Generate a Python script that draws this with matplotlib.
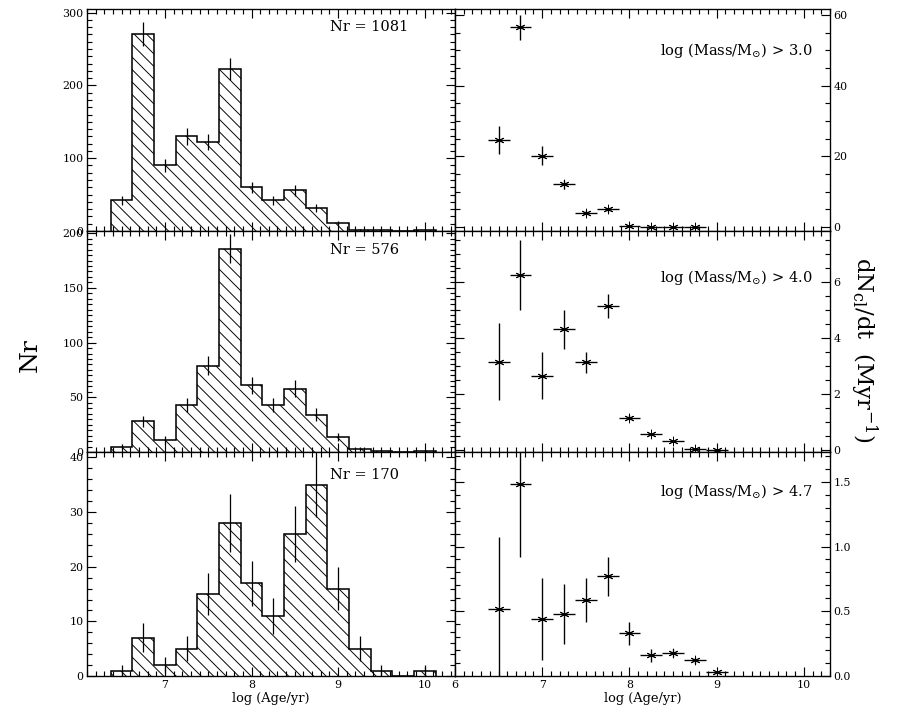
import numpy as np
import matplotlib
matplotlib.use("Agg")
import matplotlib.pyplot as plt
from matplotlib.ticker import MultipleLocator, AutoMinorLocator

plt.rcParams['font.family'] = ['DejaVu Serif']
plt.rcParams['mathtext.fontset'] = 'dejavuserif'
plt.rcParams['hatch.linewidth'] = 0.9

# bin centres in log(Age/yr)
age_bins = [6.5, 6.75, 7.0, 7.25, 7.5, 7.75, 8.0, 8.25, 8.5, 8.75, 9.0, 9.25, 9.5, 9.75, 10.0]
bin_width = 0.25

# histograms (number of clusters per bin)
nr_m30 = [42, 270, 90, 130, 122, 223, 60, 42, 56, 31, 11, 2, 1, 0, 1]
nr_m40 = [5, 28, 11, 43, 79, 186, 61, 43, 58, 34, 14, 3, 1, 0, 1]
nr_m47 = [1, 7, 2, 5, 15, 28, 17, 11, 26, 35, 16, 5, 1, 0, 1]
nr_totals = [1081, 576, 170]

# formation rates dN/dt (Myr^-1)
rate_age = [6.5, 6.75, 7.0, 7.25, 7.5, 7.75, 8.0, 8.25, 8.5, 8.75, 9.0]
rate_m30 = [24.6, 56.5, 20.2, 12.1, 4.1, 5.1, 0.3, 0.15, 0.06, 0.02]
err_m30 = [4.0, 3.5, 2.6, 1.3, 0.6, 0.7, 0.1, 0.05, 0.03, 0.01]
rate_m40 = [3.15, 6.25, 2.65, 4.31, 3.12, 5.15, 1.15, 0.56, 0.30, 0.03, 0.01]
err_m40 = [1.37, 1.25, 0.83, 0.7, 0.37, 0.43, 0.1, 0.05, 0.03, 0.02, 0.0]
rate_m47 = [0.52, 1.48, 0.44, 0.48, 0.59, 0.77, 0.33, 0.16, 0.18, 0.12, 0.03]
err_m47 = [0.55, 0.56, 0.32, 0.23, 0.17, 0.15, 0.09, 0.05, 0.03, 0.03, 0.0]
mass_cuts = ['3.0', '4.0', '4.7']

hists = [nr_m30, nr_m40, nr_m47]
rates = [(rate_m30, err_m30), (rate_m40, err_m40), (rate_m47, err_m47)]

hist_ylims = [(0, 305), (0, 202), (0, 41)]
hist_major = [100, 50, 10]
hist_minor = [10, 10, 5]
rate_ylims = [(-1.1, 61.7), (-0.08, 7.82), (0, 1.73)]
rate_major = [20, 2, 0.5]
rate_minor = [4, 4, 5]

fig = plt.figure(figsize=(12, 9.64), dpi=75)

L, M, R = 87 / 900, 455 / 900, 830 / 900
rows = [(0.6805, 0.9876), (0.3748, 0.6805), (0.065, 0.3748)]


def style_axis(ax):
    ax.tick_params(which='both', direction='in', top=True, bottom=True,
                   left=True, right=True, width=1.1, labelsize=10.5)
    ax.tick_params(which='major', length=9)
    ax.tick_params(which='minor', length=4.5)
    ax.xaxis.set_major_locator(MultipleLocator(1))
    ax.xaxis.set_minor_locator(AutoMinorLocator(10))
    for s in ax.spines.values():
        s.set_linewidth(1.3)


edges = np.concatenate([np.array(age_bins) - bin_width / 2, [age_bins[-1] + bin_width / 2]])

for i in range(3):
    y0, y1 = rows[i]
    # left: histogram
    ax = fig.add_axes([L, y0, M - L, y1 - y0])
    vals = np.array(hists[i], dtype=float)
    ax.stairs(vals, edges, fill=True, facecolor='none', edgecolor='black',
              hatch='\\\\', linewidth=0, baseline=0)
    ax.stairs(vals, edges, fill=False, color='black', linewidth=1.5, baseline=0)
    nz = vals > 0
    ax.errorbar(np.array(age_bins)[nz], vals[nz], yerr=np.sqrt(vals[nz]),
                fmt='none', ecolor='black', elinewidth=1.2, capsize=0)
    ax.set_xlim(6.1, 10.35)
    ax.set_ylim(*hist_ylims[i])
    style_axis(ax)
    ax.yaxis.set_major_locator(MultipleLocator(hist_major[i]))
    ax.yaxis.set_minor_locator(AutoMinorLocator(hist_minor[i]))
    ax.text(0.66, [0.92, 0.914, 0.896][i], f'Nr = {nr_totals[i]}',
            transform=ax.transAxes, ha='left', va='center', fontsize=14)
    if i < 2:
        ax.tick_params(labelbottom=False)
    else:
        ax.set_xlabel('log (Age/yr)', fontsize=12.5, labelpad=2)

    # right: formation rate
    ax2 = fig.add_axes([M, y0, R - M, y1 - y0])
    r, e = rates[i]
    ax2.errorbar(rate_age[:len(r)], r, yerr=e, xerr=bin_width / 2,
                 fmt='none', ecolor='black', elinewidth=1.3, capsize=0)
    ax2.plot(rate_age[:len(r)], r, linestyle='none', marker=(6, 2, 0),
             markersize=9, markeredgewidth=0.9, color='black')
    ax2.set_xlim(6.0, 10.3)
    ax2.set_ylim(*rate_ylims[i])
    style_axis(ax2)
    ax2.tick_params(labelleft=False, labelright=True)
    ax2.yaxis.set_major_locator(MultipleLocator(rate_major[i]))
    ax2.yaxis.set_minor_locator(AutoMinorLocator(rate_minor[i]))
    if i == 2:
        ax2.yaxis.set_major_formatter(plt.FormatStrFormatter('%.1f'))
    ax2.text(0.953, [0.815, 0.79, 0.824][i],
             r'log (Mass/$\mathrm{M}_{\odot}$) > ' + mass_cuts[i],
             transform=ax2.transAxes, ha='right', va='center', fontsize=14)
    if i < 2:
        ax2.tick_params(labelbottom=False)
    else:
        ax2.set_xlabel('log (Age/yr)', fontsize=12.5, labelpad=2)

fig.text(30 / 900, 1 - 355 / 723, 'Nr', rotation=90, ha='center', va='center',
         fontsize=24)
fig.text(864 / 900, 1 - 350 / 723, r'dN$_{\rm cl}$/dt  (Myr$^{-1}$)',
         rotation=270, ha='center', va='center', fontsize=22)

fig.savefig('out.png', dpi=75)
